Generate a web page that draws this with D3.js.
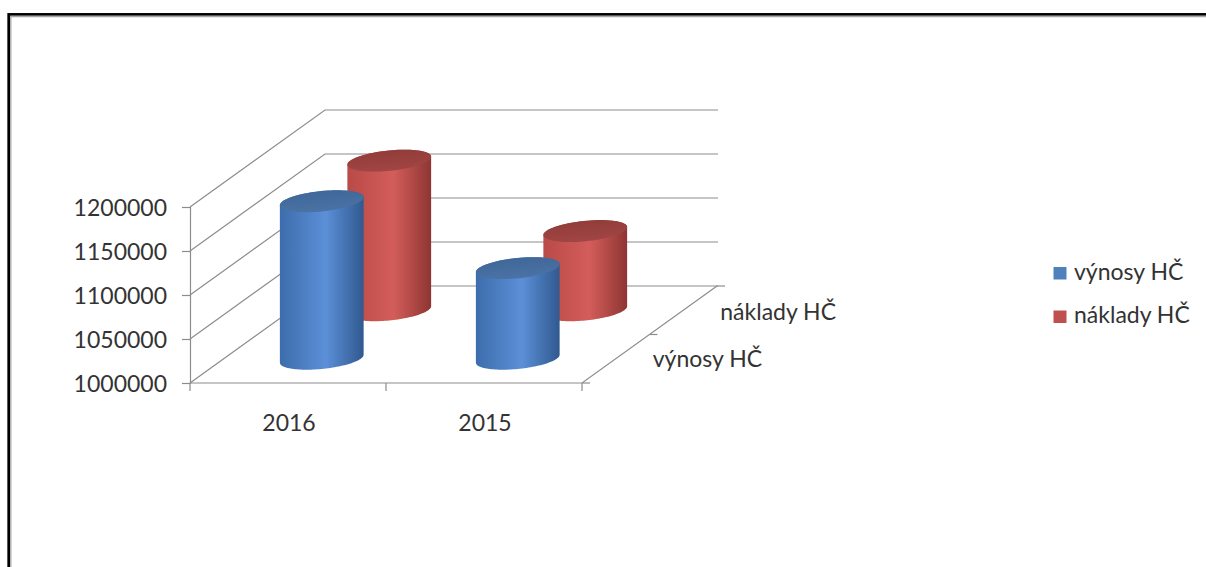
<!DOCTYPE html>
<html>
<head>
<meta charset="utf-8">
<script src="https://cdn.jsdelivr.net/npm/d3@7"></script>
<style>
  html, body { margin: 0; padding: 0; background: #fff; }
  svg { display: block; }
  text { font-family: Lato, "Open Sans", sans-serif; fill: #333333; }
</style>
</head>
<body>
<svg id="chart" width="1206" height="567"></svg>
<script>
const categories = ["2016", "2015"];
const seriesNames = ["výnosy HČ", "náklady HČ"];
const vynosy = [1179000, 1103000];
const naklady = [1170000, 1090000];
const yTicks = [1000000, 1050000, 1100000, 1150000, 1200000];

const seriesValues = [vynosy, naklady];
const seriesColors = [
  { dark: "#30598f", mid: "#5b8fd7", left: "#3d6dab", top: "#3e6596", top2: "#4a72a4", legend: "#4f81bd" },
  { dark: "#8e3533", mid: "#d35d5a", left: "#b94a47", top: "#8f3b39", top2: "#a04543", legend: "#c0504d" }
];

const svg = d3.select("#chart");
const W = 1206, H = 567;

// frame
svg.append("rect").attr("x", 8.7).attr("y", 14.4).attr("width", W + 20).attr("height", H + 20)
  .attr("fill", "none").attr("stroke", "#000").attr("stroke-width", 2.7);
svg.append("path").attr("d", `M${10.8},${H + 10} V${16.5} H${W + 10}`)
  .attr("fill", "none").attr("stroke", "#a6a6a6").attr("stroke-width", 1.3);

// scales
const x = d3.scaleBand().domain(categories).range([190, 582]);
const y = d3.scaleLinear().domain([1000000, 1200000]).range([383, 207]);
const z = d3.scaleBand().domain(seriesNames).range([0, 1]);
const DX = 135, DY = -97; // screen offset for full depth

const proj = (px, v, d) => [px + d * DX, y(v) + d * DY];

const gridColor = "#8c8c8c";
const g = svg.append("g");

// left wall + back wall gridlines
yTicks.forEach(t => {
  const a = proj(190, t, 0), b = proj(190, t, 1), c = [718, b[1]];
  g.append("path").attr("d", `M${a[0]},${a[1]} L${b[0]},${b[1]} L${c[0]},${c[1]}`)
    .attr("fill", "none").attr("stroke", gridColor).attr("stroke-width", 1.2);
});

// floor front edge and right edge
const f0 = proj(190, 1000000, 0), f1 = proj(582, 1000000, 0), f2 = proj(582, 1000000, 1);
g.append("path").attr("d", `M${f0[0]},${f0[1]} L${f1[0]},${f1[1]} L${f2[0]},${f2[1]}`)
  .attr("fill", "none").attr("stroke", gridColor).attr("stroke-width", 1.2);

// y axis
const yAxis = d3.axisLeft(y).tickValues(yTicks).tickSize(8).tickPadding(15).tickFormat(d3.format("d"));
const ya = svg.append("g").attr("transform", "translate(190,0)").call(yAxis);
ya.select(".domain").attr("stroke", gridColor).attr("stroke-width", 1.2);
ya.selectAll(".tick line").attr("stroke", gridColor).attr("stroke-width", 1.2);
ya.selectAll(".tick text").attr("font-size", 23).attr("font-family", "Lato").attr("fill", "#333333")
  .attr("dy", "0.36em");

// category ticks and labels
const catEdges = [x.range()[0]].concat(categories.map(c => x(c) + x.bandwidth()));
catEdges.forEach(px => {
  g.append("line").attr("x1", px).attr("x2", px).attr("y1", 383).attr("y2", 391)
    .attr("stroke", gridColor).attr("stroke-width", 1.2);
});
categories.forEach(c => {
  svg.append("text").attr("x", x(c) + x.bandwidth() / 2 + 1).attr("y", 431)
    .attr("text-anchor", "middle").attr("font-size", 23).text(c);
});

// depth (series) axis ticks and labels
[0, 0.5, 1].forEach(d => {
  const p = proj(582, 1000000, d);
  g.append("line").attr("x1", p[0]).attr("x2", p[0] + 8).attr("y1", p[1]).attr("y2", p[1])
    .attr("stroke", gridColor).attr("stroke-width", 1.2);
});
seriesNames.forEach((s, i) => {
  const p = proj(582, 1000000, z(s) + z.bandwidth() / 2);
  svg.append("text").attr("x", p[0] + 37).attr("y", p[1] + 8.5 + i * 1.5)
    .attr("font-size", 23).text(s);
});

// gradients
const defs = svg.append("defs");
seriesColors.forEach((c, i) => {
  const lg = defs.append("linearGradient").attr("id", "body" + i)
    .attr("x1", "0").attr("x2", "1").attr("y1", "0").attr("y2", "0");
  lg.append("stop").attr("offset", "0").attr("stop-color", c.left);
  lg.append("stop").attr("offset", "0.55").attr("stop-color", c.mid);
  lg.append("stop").attr("offset", "1").attr("stop-color", c.dark);
  const tg = defs.append("linearGradient").attr("id", "top" + i)
    .attr("x1", "0").attr("x2", "0.3").attr("y1", "0").attr("y2", "1");
  tg.append("stop").attr("offset", "0").attr("stop-color", c.top);
  tg.append("stop").attr("offset", "1").attr("stop-color", c.top2);
});

// cylinders
const R = 39, S = 0.113; // radius in px (category direction) and depth fraction
const th0 = Math.atan2(S * DX, R);
function ellPt(cx, cy, t) {
  return [cx + R * Math.cos(t) + S * DX * Math.sin(t), cy + S * DY * Math.sin(t)];
}
function arc(cx, cy, a0, a1, n) {
  const pts = [];
  for (let k = 0; k <= n; k++) pts.push(ellPt(cx, cy, a0 + (a1 - a0) * k / n));
  return pts;
}
const cyl = svg.append("g");
// draw back row first
[1, 0].forEach(si => {
  const dc = z(seriesNames[si]) + z.bandwidth() / 2;
  categories.forEach((cat, ci) => {
    const v = seriesValues[si][ci];
    const px = x(cat) + x.bandwidth() / 2;
    const [cxb, cyb] = proj(px, 1000000, dc);
    const [cxt, cyt] = proj(px, v, dc);
    const front = arc(cxb, cyb, th0 + Math.PI, th0 + 2 * Math.PI, 60);
    const back = arc(cxt, cyt, th0, th0 + Math.PI, 60);
    const topL = ellPt(cxt, cyt, th0 + Math.PI);
    const pts = [topL].concat(front).concat([ellPt(cxt, cyt, th0)]).concat(back.slice(1));
    cyl.append("path").attr("d", d3.line()(pts) + "Z").attr("fill", `url(#body${si})`);
    const top = arc(cxt, cyt, 0, 2 * Math.PI, 80);
    cyl.append("path").attr("d", d3.line()(top) + "Z").attr("fill", `url(#top${si})`);
  });
});

// legend
seriesNames.forEach((s, i) => {
  const yy = 267 + i * 43.5;
  svg.append("rect").attr("x", 1053.5).attr("y", yy).attr("width", 13).attr("height", 12.5)
    .attr("fill", seriesColors[i].legend);
  svg.append("text").attr("x", 1074).attr("y", yy + 12.5).attr("font-size", 23).text(s);
});
</script>
</body>
</html>
